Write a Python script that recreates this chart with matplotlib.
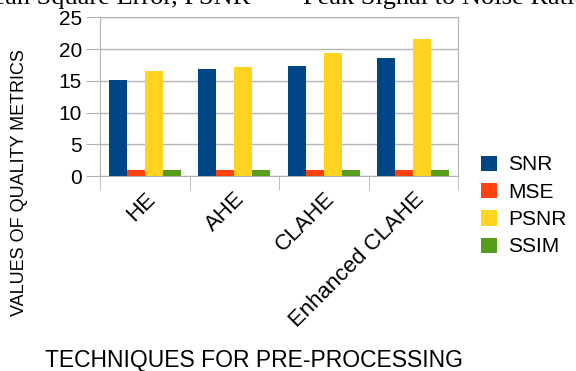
import matplotlib
matplotlib.use("Agg")
import matplotlib.pyplot as plt
import numpy as np

# values
techniques = ["HE", "AHE", "CLAHE", "Enhanced CLAHE"]
snr = [15.1, 16.85, 17.3, 18.6]
mse = [0.95, 0.95, 0.95, 0.95]
psnr = [16.5, 17.2, 19.4, 21.6]
ssim = [0.95, 0.95, 0.95, 0.95]
metric_names = ["SNR", "MSE", "PSNR", "SSIM"]
colors = ["#004586", "#ff420e", "#ffd320", "#579d1c"]

plt.rcParams["font.family"] = ["Liberation Sans", "DejaVu Sans"]
grey = "#b3b3b3"

fig = plt.figure(figsize=(5.76, 3.71), dpi=100)
ax = fig.add_axes([100 / 576, 1 - 176 / 371, 358 / 576, 158.7 / 371])

x = np.arange(len(techniques))
w = 0.2
for i, (vals, name, c) in enumerate(zip([snr, mse, psnr, ssim], metric_names, colors)):
    ax.bar(x + (i - 1.5) * w, vals, w, color=c, label=name, zorder=3)

ax.set_xlim(-0.5, len(techniques) - 0.5)
ax.set_ylim(0, 25)
ax.set_yticks(range(0, 26, 5))
ax.yaxis.grid(True, color=grey, lw=1, zorder=0)
for s in ax.spines.values():
    s.set_color(grey)

# category labels centred, tick marks on the boundaries
ax.set_xticks(x)
ax.set_xticklabels(techniques, rotation=45, ha="right", rotation_mode="anchor")
ax.set_xticks(np.arange(-0.5, len(techniques), 1.0), minor=True)
ax.tick_params(axis="x", which="major", length=0, pad=9, labelsize=16)
ax.tick_params(axis="x", which="minor", length=10, color=grey)
ax.tick_params(axis="y", length=10, color=grey, labelsize=15, pad=3)

fig.text(20 / 576, 1 - 183 / 371, "VALUES OF QUALITY METRICS", rotation=90,
         ha="center", va="center", fontsize=13)
fig.text(254 / 576, 1 - 360 / 371, "TECHNIQUES FOR PRE-PROCESSING",
         ha="center", va="center", fontsize=16.5)

# caption text of the page, cut off at the top
fig.text(250 / 576, 1 - 4 / 371, "Mean Square Error, PSNR", ha="right", va="baseline",
         fontsize=19, family="Liberation Serif")
fig.text(303 / 576, 1 - 4 / 371, "Peak Signal to Noise Ratio", ha="left", va="baseline",
         fontsize=19, family="Liberation Serif")

ax.legend(loc="center left", bbox_to_anchor=(462 / 576, 1 - 206 / 371),
          bbox_transform=fig.transFigure, frameon=False, fontsize=15,
          handlelength=0.8, handleheight=0.75, handletextpad=0.5, labelspacing=0.4)

fig.savefig("out.png", dpi=100)
